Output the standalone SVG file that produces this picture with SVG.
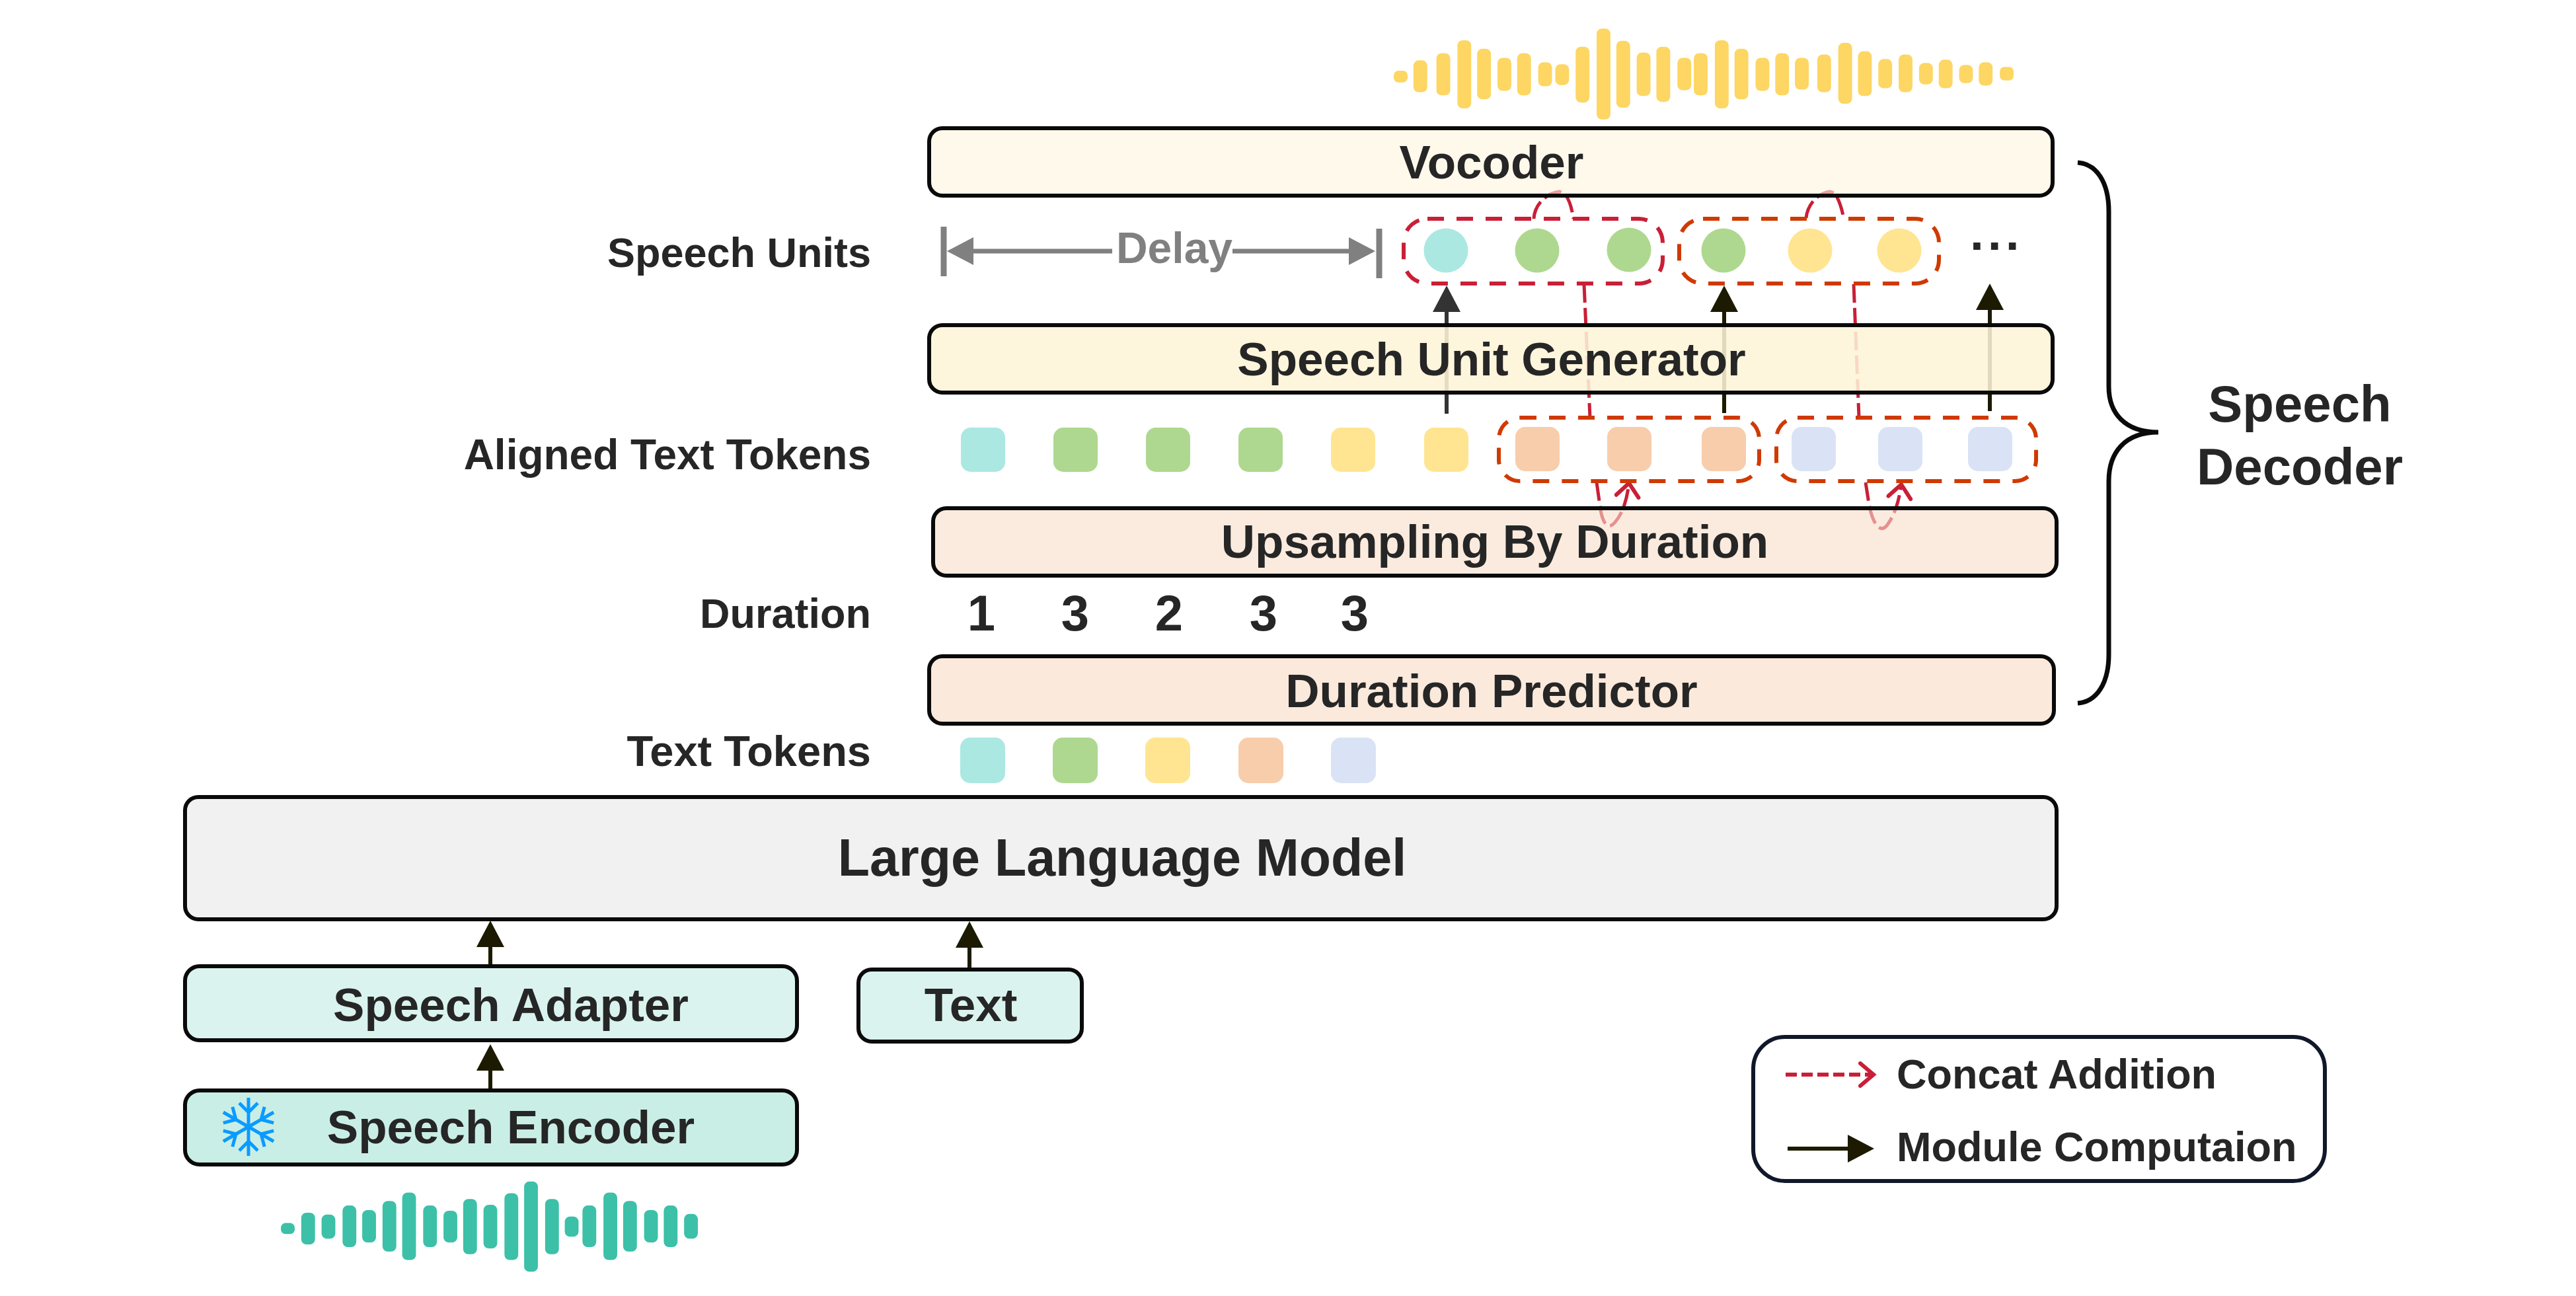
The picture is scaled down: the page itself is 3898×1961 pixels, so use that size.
<svg xmlns="http://www.w3.org/2000/svg" width="3898" height="1961" viewBox="0 0 3898 1961">
<style>
text{font-family:"Liberation Sans",Arial,sans-serif;font-weight:700;fill:#262626}
.m{font-size:71px;text-anchor:middle}
.l{font-size:63px;text-anchor:end}
.n{font-size:76px;text-anchor:middle}
.b{stroke:#0a0a0a;stroke-width:6}
.dr{fill:none;stroke:#c91f37;stroke-width:6;stroke-dasharray:25 19}
.do{fill:none;stroke:#cf3a00;stroke-width:6;stroke-dasharray:25 19}
.c{fill:none;stroke:#c91f37;stroke-width:5;stroke-dasharray:28 8}
.a{stroke:#1c1a00;stroke-width:6;fill:none;marker-end:url(#h)}
.g{stroke:#808080;stroke-width:7;fill:none}
.y rect{fill:#fdd663}
.t rect{fill:#3cc0a8}
.teal{fill:#abe8e2}.green{fill:#aed88f}.yel{fill:#ffe592}.ora{fill:#f7cdab}.blu{fill:#dae3f5}
</style>
<defs>
<marker id="h" markerUnits="userSpaceOnUse" markerWidth="44" markerHeight="46" refX="2" refY="21" orient="auto"><path d="M0,0L40,21L0,42z" fill="#1c1a00"/></marker>
<marker id="hd" markerUnits="userSpaceOnUse" markerWidth="44" markerHeight="46" refX="2" refY="21" orient="auto"><path d="M0,0L40,21L0,42z" fill="#333"/></marker>
<marker id="hg" markerUnits="userSpaceOnUse" markerWidth="44" markerHeight="46" refX="2" refY="21" orient="auto"><path d="M0,0L40,21L0,42z" fill="#808080"/></marker>
<marker id="ho" markerUnits="userSpaceOnUse" markerWidth="40" markerHeight="50" refX="24" refY="20" orient="auto"><path d="M4,3L24,20L4,37" fill="none" stroke="#c91f37" stroke-width="6" stroke-linecap="round"/></marker>
<g id="flake-arm"><path d="M0,0V-44M0,-22L-14,-36M0,-22L14,-36" fill="none" stroke="#0a9bff" stroke-width="5"/></g>
</defs>

<g id="connectors">
<line class="a" x1="2189" y1="626" x2="2189" y2="470" style="marker-end:url(#hd);stroke:#333"/>
<line class="a" x1="2609" y1="625" x2="2609" y2="470"/>
<line class="a" x1="3011" y1="622" x2="3011" y2="467"/>
<line class="a" x1="742" y1="1462" x2="742" y2="1431"/>
<line class="a" x1="742" y1="1648" x2="742" y2="1618"/>
<line class="a" x1="1467" y1="1468" x2="1467" y2="1432"/>
<path class="c" d="M2397,430L2406,632"/>
<path class="c" d="M2805,430L2813,632"/>
<path class="c" d="M2321,331C2322,310 2340,292 2359,290C2372,290 2378,312 2381,331"/>
<path class="c" d="M2733,330C2735,310 2750,292 2769,290C2780,290 2786,312 2790,330"/>
<path class="c" style="marker-end:url(#ho)" d="M2416,730L2422,772C2426,794 2434,802 2444,790C2456,776 2462,755 2465,731"/>
<path class="c" style="marker-end:url(#ho)" d="M2823,730L2828,762C2834,795 2846,808 2856,794C2868,778 2874,755 2877,733"/>
<path class="g" style="marker-end:url(#hg)" d="M1683,380H1471"/>
<path class="g" style="marker-end:url(#hg)" d="M1865,380H2043"/>
<path d="M1428,343V418M2087,346V421" stroke="#808080" stroke-width="9" fill="none"/>
<path d="M3144,246C3172,248 3191,275 3191,320V585C3191,625 3215,654 3266,654M3144,1064C3172,1062 3191,1035 3191,990V728C3191,685 3215,654 3266,654" fill="none" stroke="#0a0a0a" stroke-width="7"/>
</g>

<g id="wave-out" class="y" transform="matrix(.9936 0 0 .982 .6 0)">
<rect x="2122" y="109" width="21" height="18" rx="7"/><rect x="2152" y="93" width="21" height="49" rx="8"/><rect x="2187" y="82" width="21" height="65" rx="8"/><rect x="2219" y="62" width="21" height="105" rx="8"/><rect x="2249" y="75" width="21" height="78" rx="8"/><rect x="2280" y="89" width="21" height="51" rx="8"/><rect x="2310" y="82" width="21" height="65" rx="8"/><rect x="2342" y="96" width="21" height="37" rx="8"/><rect x="2368" y="99" width="21" height="32" rx="8"/><rect x="2399" y="72" width="21" height="86" rx="8"/><rect x="2431" y="44" width="21" height="140" rx="8"/><rect x="2461" y="63" width="21" height="103" rx="8"/><rect x="2492" y="81" width="21" height="67" rx="8"/><rect x="2522" y="72" width="21" height="85" rx="8"/><rect x="2554" y="89" width="21" height="50" rx="8"/><rect x="2579" y="82" width="21" height="65" rx="8"/><rect x="2611" y="62" width="21" height="105" rx="8"/><rect x="2641" y="75" width="21" height="78" rx="8"/><rect x="2673" y="89" width="21" height="51" rx="8"/><rect x="2703" y="82" width="21" height="65" rx="8"/><rect x="2733" y="89" width="21" height="49" rx="8"/><rect x="2767" y="84" width="21" height="58" rx="8"/><rect x="2799" y="66" width="21" height="94" rx="8"/><rect x="2829" y="79" width="21" height="69" rx="8"/><rect x="2860" y="91" width="21" height="45" rx="8"/><rect x="2891" y="84" width="21" height="58" rx="8"/><rect x="2922" y="97" width="21" height="33" rx="8"/><rect x="2952" y="92" width="21" height="44" rx="8"/><rect x="2983" y="100" width="21" height="28" rx="8"/><rect x="3013" y="96" width="21" height="36" rx="8"/><rect x="3045" y="103" width="21" height="21" rx="7"/>
</g>

<g id="vocoder"><rect class="b" x="1406" y="194" width="1700" height="102" rx="20" fill="#fff5df" fill-opacity=".6"/><text class="m" x="2257" y="270">Vocoder</text></g>
<g id="speech-unit-generator"><rect class="b" x="1406" y="492" width="1700" height="102" rx="20" fill="#fdf4d7" fill-opacity=".88"/><text class="m" x="2257" y="568">Speech Unit Generator</text></g>
<g id="upsampling"><rect class="b" x="1412" y="769" width="1700" height="102" rx="20" fill="#f8deca" fill-opacity=".6"/><text class="m" x="2262" y="844">Upsampling By Duration</text></g>
<g id="duration-predictor"><rect class="b" x="1406" y="993" width="1702" height="102" rx="20" fill="#fbe9dc"/><text class="m" x="2257" y="1070">Duration Predictor</text></g>
<g id="llm"><rect class="b" x="280" y="1206" width="2832" height="185" rx="20" fill="#f1f1f1"/><text class="m" x="1698" y="1325" style="font-size:79px">Large Language Model</text></g>
<g id="speech-adapter"><rect class="b" x="280" y="1462" width="926" height="112" rx="22" fill="#daf3ee"/><text class="m" x="773" y="1545">Speech Adapter</text></g>
<g id="text-node"><rect class="b" x="1299" y="1467" width="338" height="109" rx="20" fill="#daf3ee"/><text class="m" x="1469" y="1545">Text</text></g>
<g id="speech-encoder"><rect class="b" x="280" y="1650" width="926" height="112" rx="22" fill="#c9eee6"/><text class="m" x="773" y="1730">Speech Encoder</text>
<g id="snowflake" transform="translate(376,1705)"><use href="#flake-arm"/><use href="#flake-arm" transform="rotate(60)"/><use href="#flake-arm" transform="rotate(120)"/><use href="#flake-arm" transform="rotate(180)"/><use href="#flake-arm" transform="rotate(240)"/><use href="#flake-arm" transform="rotate(300)"/></g></g>

<g id="wave-in" class="t" transform="matrix(.992 0 0 .9825 1.5 24.15)">
<rect x="427" y="1859" width="21" height="17" rx="7"/><rect x="458" y="1843" width="21" height="49" rx="8"/><rect x="489" y="1846" width="21" height="37" rx="8"/><rect x="521" y="1832" width="21" height="64" rx="8"/><rect x="551" y="1839" width="21" height="50" rx="8"/><rect x="582" y="1825" width="21" height="78" rx="8"/><rect x="612" y="1812" width="21" height="104" rx="8"/><rect x="644" y="1832" width="21" height="64" rx="8"/><rect x="675" y="1840" width="21" height="49" rx="8"/><rect x="705" y="1822" width="21" height="85" rx="8"/><rect x="736" y="1831" width="21" height="67" rx="8"/><rect x="768" y="1813" width="21" height="103" rx="8"/><rect x="798" y="1795" width="21" height="139" rx="8"/><rect x="830" y="1822" width="21" height="85" rx="8"/><rect x="860" y="1849" width="21" height="31" rx="8"/><rect x="887" y="1832" width="21" height="64" rx="8"/><rect x="919" y="1812" width="21" height="104" rx="8"/><rect x="949" y="1825" width="21" height="78" rx="8"/><rect x="981" y="1839" width="21" height="50" rx="8"/><rect x="1011" y="1832" width="21" height="64" rx="8"/><rect x="1042" y="1845" width="21" height="38" rx="8"/>
</g>

<g id="speech-units">
<circle class="teal" cx="2188" cy="379" r="33.5"/><circle class="green" cx="2326" cy="379" r="33.5"/><circle class="green" cx="2465" cy="378" r="33.5"/><circle class="green" cx="2608" cy="379" r="33.5"/><circle class="yel" cx="2739" cy="379" r="33.5"/><circle class="yel" cx="2874" cy="379" r="33.5"/>
<text x="2981" y="378" style="font-size:75px;letter-spacing:6px">...</text>
<rect class="dr" x="2124" y="331" width="392" height="98" rx="36"/>
<rect class="do" x="2541" y="331" width="393" height="98" rx="36"/>
</g>

<g id="aligned-tokens">
<rect class="teal" x="1454" y="647" width="67" height="67" rx="15"/><rect class="green" x="1594" y="647" width="67" height="67" rx="15"/><rect class="green" x="1734" y="647" width="67" height="67" rx="15"/><rect class="green" x="1874" y="647" width="67" height="67" rx="15"/><rect class="yel" x="2014" y="647" width="67" height="67" rx="15"/><rect class="yel" x="2155" y="647" width="67" height="67" rx="15"/>
<rect class="ora" x="2293" y="646" width="67" height="67" rx="15"/><rect class="ora" x="2432" y="646" width="67" height="67" rx="15"/><rect class="ora" x="2575" y="646" width="67" height="67" rx="15"/>
<rect class="blu" x="2711" y="646" width="67" height="67" rx="15"/><rect class="blu" x="2842" y="646" width="67" height="67" rx="15"/><rect class="blu" x="2978" y="646" width="67" height="67" rx="15"/>
<rect class="do" x="2268" y="632" width="394" height="96" rx="32"/>
<rect class="do" x="2688" y="632" width="393" height="96" rx="32"/>
</g>

<g id="text-tokens">
<rect class="teal" x="1453" y="1116" width="68" height="69" rx="15"/><rect class="green" x="1593" y="1116" width="68" height="69" rx="15"/><rect class="yel" x="1733" y="1116" width="68" height="69" rx="15"/><rect class="ora" x="1874" y="1116" width="68" height="69" rx="15"/><rect class="blu" x="2014" y="1116" width="68" height="69" rx="15"/>
</g>

<g id="labels">
<text class="l" x="1318" y="404">Speech Units</text>
<text class="l" x="1318" y="710" style="font-size:64px">Aligned Text Tokens</text>
<text class="l" x="1318" y="950">Duration</text>
<text class="l" x="1318" y="1159" style="font-size:65px">Text Tokens</text>
<text class="n" x="1485" y="954">1</text><text class="n" x="1627" y="954">3</text><text class="n" x="1769" y="954">2</text><text class="n" x="1912" y="954">3</text><text class="n" x="2050" y="954">3</text>
<text x="1777" y="398" text-anchor="middle" style="font-size:66px;fill:#808080">Delay</text>
<text x="3480" y="638" text-anchor="middle" style="font-size:78px">Speech</text>
<text x="3480" y="733" text-anchor="middle" style="font-size:78px">Decoder</text>
</g>

<g id="legend">
<rect x="2653" y="1569" width="865" height="218" rx="48" fill="#fff" stroke="#10182a" stroke-width="6"/>
<path class="c" style="stroke-width:6;stroke-dasharray:17 7;marker-end:url(#ho)" d="M2702,1626H2835"/>
<line class="a" x1="2705" y1="1738" x2="2798" y2="1738"/>
<text x="2870" y="1647" style="font-size:63px">Concat Addition</text>
<text x="2870" y="1757" style="font-size:63px">Module Computaion</text>
</g>
</svg>
